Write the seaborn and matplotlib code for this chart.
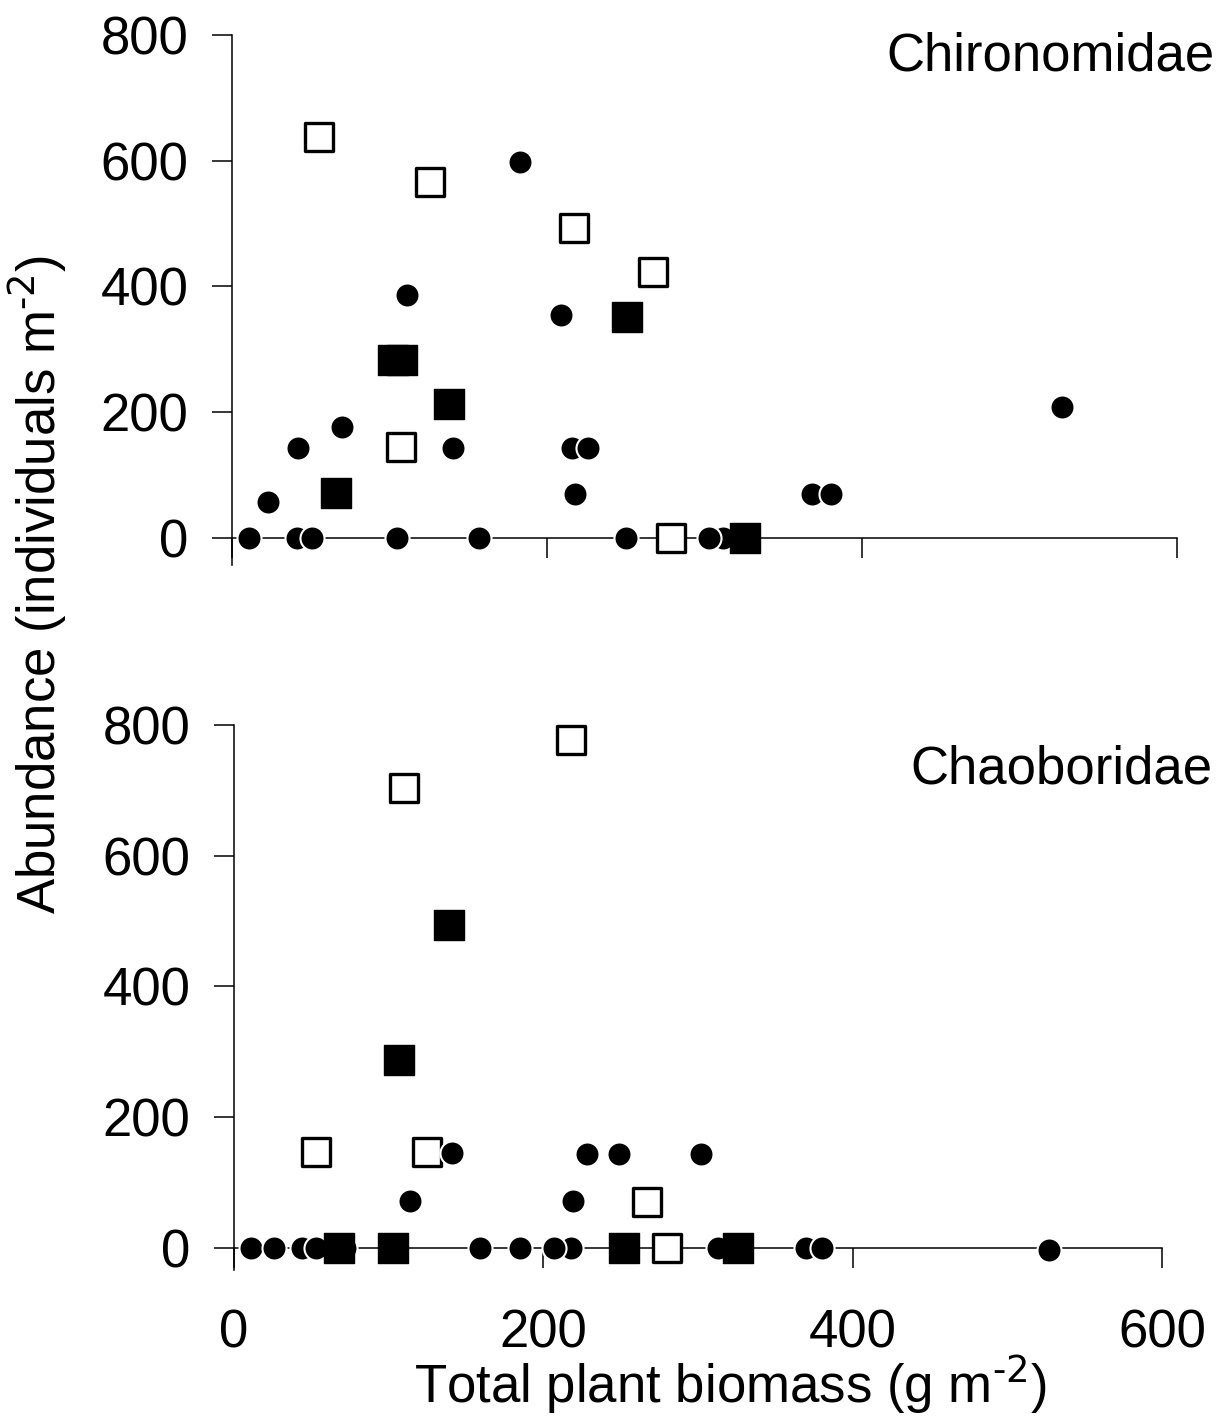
import pandas as pd
import seaborn as sns
import matplotlib.pyplot as plt

# Chironomidae (top panel)
chiro_open_x = [55, 126, 217, 267, 107, 279]
chiro_open_y = [637, 566, 493, 423, 145, 0]
chiro_filled_x = [102, 108, 138, 66, 251, 326]
chiro_filled_y = [283, 283, 213, 72, 351, 0]
chiro_circle_x = [11, 23, 42, 41, 51, 70, 111, 105, 140, 157, 183, 209, 216, 226, 218, 250, 312, 303, 527, 368, 380]
chiro_circle_y = [0, 57, 143, 0, 0, 176, 386, 0, 143, 0, 598, 355, 143, 143, 70, 0, 0, 0, 208, 70, 70]

# Chaoboridae (bottom panel)
chao_open_x = [218, 110, 53, 125, 267, 280]
chao_open_y = [777, 704, 147, 147, 70, 0]
chao_filled_x = [139, 107, 68, 103, 252, 326]
chao_filled_y = [494, 287, 0, 0, 0, 0]
chao_circle_x = [141, 114, 228, 249, 302, 219, 11, 26, 44, 53, 72, 159, 185, 218, 207, 313, 370, 380, 527]
chao_circle_y = [145, 72, 144, 144, 144, 72, 0, 0, 0, 0, 0, 0, 0, 0, 0, 0, 0, 0, -3]

x_ticks = [0, 200, 400, 600]
y_ticks = [0, 200, 400, 600, 800]

sns.set_style("white")
plt.rcParams['font.family'] = ['Liberation Sans', 'DejaVu Sans']
plt.rcParams['mathtext.default'] = 'regular'
plt.rcParams['text.color'] = 'black'
plt.rcParams['xtick.color'] = 'black'
plt.rcParams['ytick.color'] = 'black'

FS = 38


def draw_panel(ax, open_x, open_y, filled_x, filled_y, circle_x, circle_y, ylow, show_xlabels):
    opn = pd.DataFrame({'x': open_x, 'y': open_y})
    fil = pd.DataFrame({'x': filled_x, 'y': filled_y})
    cir = pd.DataFrame({'x': circle_x, 'y': circle_y})
    sns.scatterplot(data=opn, x='x', y='y', ax=ax, marker='s', s=430, color='white',
                    edgecolor='black', linewidth=2.4, zorder=3, clip_on=False)
    sns.scatterplot(data=cir, x='x', y='y', ax=ax, marker='o', s=300, color='black',
                    edgecolor='white', linewidth=1.5, zorder=4, clip_on=False)
    sns.scatterplot(data=fil, x='x', y='y', ax=ax, marker='s', s=470, color='black',
                    edgecolor='black', linewidth=1.0, zorder=5, clip_on=False)
    ax.set_xlim(0, 600)
    ax.set_ylim(ylow, 800)
    ax.set_xticks(x_ticks)
    ax.set_yticks(y_ticks)
    ax.spines['top'].set_visible(False)
    ax.spines['right'].set_visible(False)
    ax.spines['bottom'].set_position(('data', 0))
    for sp in ['left', 'bottom']:
        ax.spines[sp].set_color('black')
        ax.spines[sp].set_linewidth(1.1)
        ax.spines[sp].set_zorder(1)
    ax.tick_params(axis='y', direction='out', length=14.5, width=1.1, pad=17,
                   labelsize=FS, left=True, colors='black')
    ax.tick_params(axis='x', direction='out', length=14.5, width=1.1, pad=29,
                   labelsize=FS, bottom=True, labelbottom=show_xlabels, colors='black')
    ax.set_xlabel('')
    ax.set_ylabel('')


fig = plt.figure(figsize=(12.21, 14.23), dpi=100)
ax_top = fig.add_axes([0.190, 0.603, 0.774, 0.3725])
ax_bot = fig.add_axes([0.1916, 0.1075, 0.760, 0.383])

draw_panel(ax_top, chiro_open_x, chiro_open_y, chiro_filled_x, chiro_filled_y,
           chiro_circle_x, chiro_circle_y, -43, False)
draw_panel(ax_bot, chao_open_x, chao_open_y, chao_filled_x, chao_filled_y,
           chao_circle_x, chao_circle_y, -34, True)

fig.text(0.995, 0.960, 'Chironomidae', ha='right', va='center', fontsize=FS)
fig.text(0.993, 0.459, 'Chaoboridae', ha='right', va='center', fontsize=FS)
fig.text(0.031, 0.589, r'Abundance (individuals m$^{\text{-2}}$)', rotation=90,
         ha='center', va='center', fontsize=FS)
fig.text(0.598, 0.027, r'Total plant biomass (g m$^{\text{-2}}$)', ha='center', va='center', fontsize=FS)

fig.savefig('out.png', dpi=100)
